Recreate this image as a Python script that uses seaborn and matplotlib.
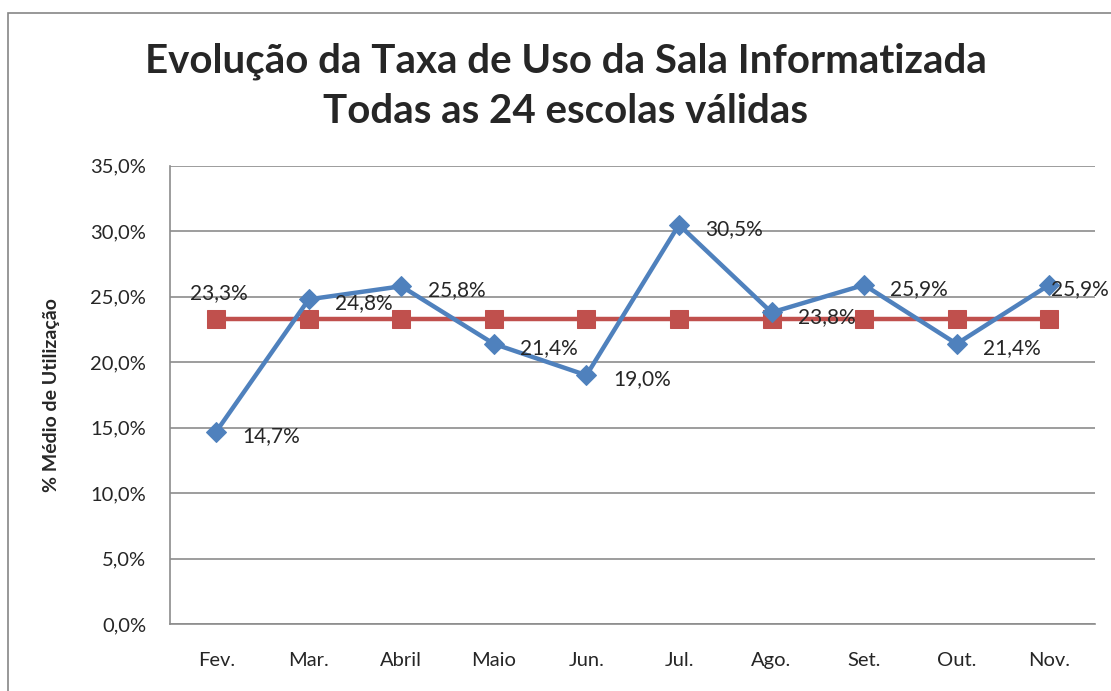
import pandas as pd
import seaborn as sns
import matplotlib.pyplot as plt
from matplotlib.patches import Rectangle
from matplotlib.ticker import FuncFormatter, MultipleLocator

# =============================================================================
# Data
# =============================================================================
months = ["Fev.", "Mar.", "Abril", "Maio", "Jun.", "Jul.", "Ago.", "Set.", "Out.", "Nov."]
taxa_uso = [14.7, 24.8, 25.8, 21.4, 19.0, 30.5, 23.8, 25.9, 21.4, 25.9]
media = [23.3] * len(months)

df = pd.DataFrame({
    "pos": range(len(months)),
    "mes": months,
    "taxa": taxa_uso,
    "media": media,
})

blue = "#4F81BD"
red = "#C0504D"
font = "Lato"

sns.set_style("white")
plt.rcParams["font.family"] = [font, "DejaVu Sans"]

fig = plt.figure(figsize=(11.11, 6.91), dpi=100)
ax = fig.add_axes([0.153, 0.097, 0.833, 0.663])

# Outer chart frame (extends past the right/bottom edges like the screenshot)
fig.patches.append(Rectangle((8 / 1111, -0.1), 1.2, 1 - 13 / 691 + 0.1,
                             transform=fig.transFigure, fill=False,
                             edgecolor="#868686", linewidth=1.2, zorder=0))

sns.lineplot(data=df, x="pos", y="media", color=red, linewidth=3.2,
             marker="s", markersize=13, markeredgecolor=red, ax=ax, zorder=3)
sns.lineplot(data=df, x="pos", y="taxa", color=blue, linewidth=3.2,
             marker="D", markersize=10, markeredgecolor=blue, ax=ax, zorder=4)

# Data labels (last one pulled in so it stays inside the picture)
for i, v in enumerate(taxa_uso):
    dx = 19 if i < len(taxa_uso) - 1 else 1
    ax.annotate(f"{v:.1f}%".replace(".", ","), (i, v), xytext=(dx, -3),
                textcoords="offset points", ha="left", va="center",
                fontsize=15, zorder=5, annotation_clip=False)
ax.annotate(f"{media[0]:.1f}%".replace(".", ","), (0, media[0]), xytext=(2, 19),
            textcoords="offset points", ha="center", va="center",
            fontsize=15, zorder=5)

ax.set_xlim(-0.5, len(months) - 0.5)
ax.set_ylim(0, 35)
ax.yaxis.set_major_locator(MultipleLocator(5))
ax.yaxis.set_major_formatter(FuncFormatter(lambda y, _: f"{y:.1f}%".replace(".", ",")))
ax.set_xticks(range(len(months)))
ax.set_xticklabels(months)
ax.tick_params(axis="both", labelsize=14.5, length=0)
ax.tick_params(axis="x", pad=20)
ax.tick_params(axis="y", pad=17)

ax.grid(axis="y", color="#8c8c8c", linewidth=1.2)
ax.grid(axis="x", visible=False)
for side in ["top", "right"]:
    ax.spines[side].set_visible(False)
ax.spines["left"].set_color("#8c8c8c")
ax.spines["left"].set_linewidth(1.2)
ax.spines["bottom"].set_color("#8c8c8c")
ax.spines["bottom"].set_linewidth(1.2)

ax.set_xlabel("")
ax.set_ylabel("% Médio de Utilização", fontsize=14, fontweight="bold", labelpad=22)

fig.text(0.509, 0.912, "Evolução da Taxa de Uso da Sala Informatizada",
         ha="center", va="center", fontsize=29, fontweight="bold")
fig.text(0.509, 0.838, "Todas as 24 escolas válidas",
         ha="center", va="center", fontsize=29, fontweight="bold")

fig.savefig("out.png", dpi=100)
